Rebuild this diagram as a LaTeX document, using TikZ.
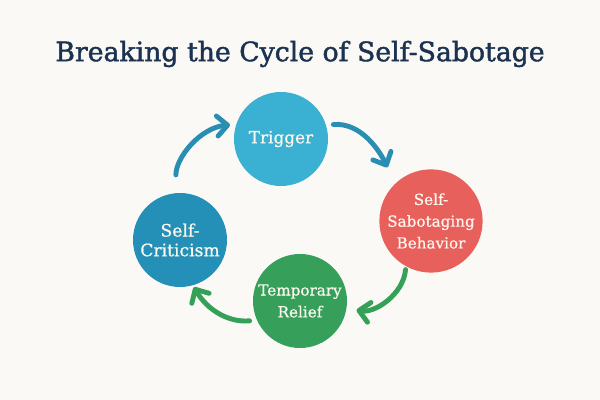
\documentclass[tikz,border=0pt]{standalone}
\usepackage{fontspec}
\setmainfont{DejaVu Serif}
\newfontfamily\ttlfont[FakeBold=1.6]{DejaVu Serif}
\newfontfamily\stgfont[FakeBold=0.6]{DejaVu Serif}
\usepackage{xcolor}
\definecolor{bg}{HTML}{FBF9F5}
\definecolor{ttl}{HTML}{1B3350}
\definecolor{cyanb}{HTML}{3AB0D2}
\definecolor{tealb}{HTML}{2490B8}
\definecolor{redc}{HTML}{E8605C}
\definecolor{greenc}{HTML}{36A05A}
\definecolor{arrb}{HTML}{2A8EB3}
\definecolor{arrg}{HTML}{35A058}
\definecolor{txt}{HTML}{FDF8EE}
\usetikzlibrary{arrows.meta, calc}
\tikzstyle{stage} = [circle, minimum size=2.35cm, inner sep=0pt, text=txt, align=center, font=\stgfont\fontsize{10.8}{15.5}\selectfont]
\tikzstyle{cyc} = [line width=3.5pt, line cap=round, -{Straight Barb[round, length=2.6mm, width=5mm]}]

\begin{document}
\begin{tikzpicture}
    \useasboundingbox[fill=bg] (0,0) rectangle (15,10);

    % title
    \node[text=ttl, font=\ttlfont\fontsize{19}{22}\selectfont] (title) at (7.5,8.65)
    {Breaking the Cycle of Self-Sabotage};

    % stages of the cycle
    \node[stage, fill=cyanb, font=\stgfont\fontsize{12}{14}\selectfont] (trig) at (7.025,6.525) {Trigger};
    \node[stage, fill=redc] (sab) at ($(trig)+(3.75,-2.05)$) {Self-\\Sabotaging\\Behavior};
    \node[stage, fill=greenc] (rel) at ($(trig)+(0.475,-4.05)$) {Temporary\\Relief};
    \node[stage, fill=tealb, font=\stgfont\fontsize{12.2}{14}\selectfont] (crit) at ($(trig)+(-2.525,-2.525)$) {Self-\\Criticism};

    % arrows between the stages
    \draw[cyc, arrb, shorten <=0.45cm, shorten >=0.15cm]
    (crit.95) to[out=90, in=185] (trig.162);
    \draw[cyc, arrb, shorten <=0.18cm, shorten >=0.45cm]
    (trig.17) to[out=5, in=115] (sab.134);
    \draw[cyc, arrg, shorten <=0.08cm, shorten >=0.25cm]
    (sab.241) to[out=-95, in=-10] (rel.-9);
    \draw[cyc, arrg, shorten <=0.18cm, shorten >=0.05cm]
    (rel.204) to[out=185, in=-60] (crit.-74);
\end{tikzpicture}
\end{document}
